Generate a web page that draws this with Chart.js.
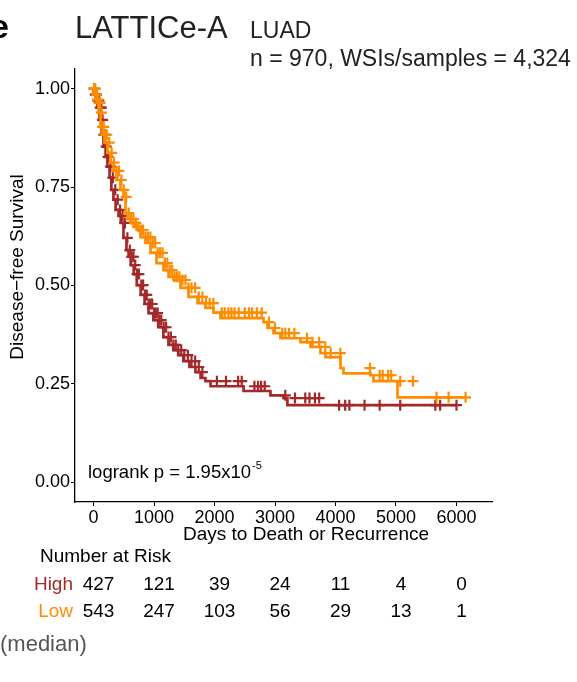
<!DOCTYPE html>
<html>
<head>
<meta charset="utf-8">
<script src="https://cdn.jsdelivr.net/npm/chart.js@4.4.0/dist/chart.umd.min.js"></script>
<style>
  html, body { margin: 0; padding: 0; background: #fff; }
  #wrap { width: 577px; height: 682px; position: relative; }
</style>
</head>
<body>
<div id="wrap"><canvas id="km_chart" width="577" height="682"></canvas></div>
<script>
// KM steps for the High group (days, survival)
var highDays = [0, 30, 65, 100, 135, 165, 200, 230, 265, 295, 330, 365, 415, 450, 495, 545, 580, 615, 665, 715, 780,
    845, 910, 990, 1070, 1155, 1240, 1320, 1400, 1485, 1585, 1685, 1770, 1850, 1935, 2480, 2925, 3140, 3205, 3865, 6000];
var highSurv = [1.000, 0.985, 0.970, 0.952, 0.921, 0.883, 0.853, 0.827, 0.802, 0.774, 0.743, 0.718, 0.692, 0.677, 0.659,
    0.621, 0.590, 0.573, 0.552, 0.529, 0.501, 0.476, 0.453, 0.430, 0.412, 0.394, 0.369, 0.349, 0.336, 0.323, 0.308,
    0.293, 0.280, 0.265, 0.257, 0.244, 0.232, 0.221, 0.214, 0.196, 0.196];

// KM steps for the Low group
var lowDays = [0, 33, 66, 83, 116, 149, 182, 231, 281, 331, 380, 446, 496, 529, 562, 612, 661, 727, 777, 860, 942,
    1041, 1157, 1240, 1322, 1438, 1570, 1719, 1851, 1983, 2099, 2810, 2876, 2975, 3091, 3421, 3587, 3752, 3835, 4083,
    4132, 4579, 4628, 5025, 5339, 6150];
var lowSurv = [1.000, 0.985, 0.972, 0.964, 0.939, 0.903, 0.883, 0.863, 0.837, 0.812, 0.791, 0.768, 0.743, 0.725, 0.684,
    0.669, 0.659, 0.649, 0.641, 0.623, 0.608, 0.583, 0.557, 0.539, 0.522, 0.514, 0.494, 0.471, 0.455, 0.443, 0.431,
    0.417, 0.407, 0.392, 0.379, 0.366, 0.356, 0.344, 0.328, 0.318, 0.290, 0.277, 0.272, 0.257, 0.216, 0.216];

// censored times
var highCensor = [10, 30, 50, 70, 90, 110, 130, 150, 170, 190, 210, 240, 280, 320, 360, 400, 440, 480, 520, 560, 600,
    630, 660, 690, 720, 750, 790, 820, 850, 880, 910, 940, 970, 1000, 1030, 1060, 1090, 1120, 1160, 1200, 1240, 1280,
    1320, 1360, 1400, 1450, 1500, 1560, 1620, 1680, 1740, 1800, 2040, 2190, 2390, 2450, 2660, 2720, 2770, 2830, 3170,
    3330, 3500, 3570, 3660, 3730, 4060, 4160, 4230, 4480, 4730, 5070, 5650, 5730, 6000];
var lowCensor = [10, 30, 50, 70, 90, 110, 130, 150, 170, 190, 220, 260, 300, 340, 380, 420, 460, 500, 540, 580, 620,
    660, 700, 740, 780, 820, 860, 900, 940, 980, 1020, 1060, 1100, 1140, 1180, 1220, 1260, 1300, 1340, 1380, 1420,
    1470, 1520, 1570, 1620, 1680, 1740, 1800, 1860, 1920, 1980, 2120, 2170, 2230, 2280, 2330, 2400, 2500, 2570, 2620,
    2700, 2780, 2900, 3000, 3120, 3170, 3230, 3320, 3530, 3620, 3730, 3830, 3920, 4080, 4570, 4730, 4780, 4870, 4920,
    5070, 5280, 5670, 5870, 6150];

var xTicks = [0, 1000, 2000, 3000, 4000, 5000, 6000];
var yTicks = [0, 0.25, 0.5, 0.75, 1];
var riskLabels = ['High', 'Low'];
var riskHigh = [427, 121, 39, 24, 11, 4, 0];
var riskLow = [543, 247, 103, 56, 29, 13, 1];

var highColor = '#a3292b';
var lowColor = '#ff8c00';
var fontFam = '"Liberation Sans", Arial, Helvetica, sans-serif';

function survAt(days, surv, t) {
    var s = surv[0];
    for (var i = 0; i < days.length; i++) {
        if (days[i] <= t) s = surv[i];
    }
    return s;
}

function toPoints(days, surv) {
    return days.map(function(d, i) { return {x: d, y: surv[i]}; });
}

function censorPoints(times, days, surv) {
    return times.map(function(t) { return {x: t, y: survAt(days, surv, t)}; });
}

// titles, p-value and the number-at-risk table
const kmText = {
    id: 'kmText',
    afterDraw: function(chart) {
        var ctx = chart.ctx;
        var xs = chart.scales.x;
        ctx.save();
        ctx.fillStyle = '#000';
        ctx.textBaseline = 'alphabetic';

        ctx.font = 'bold 34px ' + fontFam;
        ctx.textAlign = 'left';
        ctx.fillText('e', -10, 38);

        ctx.font = '31px ' + fontFam;
        ctx.fillStyle = '#222';
        ctx.fillText('LATTICe-A', 75, 38);
        ctx.font = '23px ' + fontFam;
        ctx.fillText('LUAD', 250, 38);
        ctx.fillText('n = 970, WSIs/samples = 4,324', 250, 66);

        // axis titles
        ctx.fillStyle = '#000';
        ctx.font = '19px ' + fontFam;
        ctx.textAlign = 'center';
        ctx.textBaseline = 'middle';
        ctx.fillText('Days to Death or Recurrence', 306, 535);
        ctx.save();
        ctx.translate(18, 267);
        ctx.rotate(-Math.PI / 2);
        ctx.fillText('Disease\u2212free Survival', 0, 0);
        ctx.restore();

        // logrank p-value
        ctx.textAlign = 'left';
        ctx.font = '18.5px ' + fontFam;
        var main = 'logrank p = 1.95x10';
        ctx.fillText(main, 88, 473);
        var w = ctx.measureText(main).width;
        ctx.font = '11px ' + fontFam;
        ctx.fillText('-5', 88 + w + 1, 466);

        // number at risk
        ctx.font = '19px ' + fontFam;
        ctx.fillText('Number at Risk', 40, 557);
        ctx.textAlign = 'right';
        ctx.fillStyle = highColor;
        ctx.fillText(riskLabels[0], 73, 585);
        ctx.fillStyle = lowColor;
        ctx.fillText(riskLabels[1], 73, 612);
        ctx.fillStyle = '#000';
        ctx.textAlign = 'center';
        xTicks.forEach(function(t, i) {
            var px = xs.getPixelForValue(t) + 5;
            ctx.fillText(String(riskHigh[i]), px, 585);
            ctx.fillText(String(riskLow[i]), px, 612);
        });

        ctx.textAlign = 'left';
        ctx.fillStyle = '#555';
        ctx.font = '22px ' + fontFam;
        ctx.fillText('(median)', 0, 645);
        ctx.restore();
    }
};

const config_km = {
    type: 'line',
    data: {
        datasets: [
            {
                label: 'Low censored',
                type: 'scatter',
                data: censorPoints(lowCensor, lowDays, lowSurv),
                pointStyle: 'cross',
                pointRadius: 5.5,
                pointBorderWidth: 2.2,
                borderColor: lowColor,
                backgroundColor: lowColor
            },
            {
                label: 'Low',
                data: toPoints(lowDays, lowSurv),
                stepped: 'after',
                borderColor: lowColor,
                borderWidth: 2.7,
                pointRadius: 0,
                fill: false
            },
            {
                label: 'High censored',
                type: 'scatter',
                data: censorPoints(highCensor, highDays, highSurv),
                pointStyle: 'cross',
                pointRadius: 5.5,
                pointBorderWidth: 2.2,
                borderColor: highColor,
                backgroundColor: highColor
            },
            {
                label: 'High',
                data: toPoints(highDays, highSurv),
                stepped: 'after',
                borderColor: highColor,
                borderWidth: 2.7,
                pointRadius: 0,
                fill: false
            }
        ]
    },
    options: {
        responsive: false,
        animation: false,
        devicePixelRatio: 1,
        layout: { padding: { left: 0, top: 69, right: 85, bottom: 0 } },
        plugins: { legend: { display: false }, tooltip: { enabled: false } },
        scales: {
            x: {
                type: 'linear',
                min: -306,
                max: 6587,
                afterFit: function(scale) { scale.height = 682 - 502; },
                afterBuildTicks: function(scale) {
                    scale.ticks = xTicks.map(function(v) { return {value: v}; });
                },
                grid: { display: true, drawOnChartArea: false, drawTicks: true, tickLength: 4, color: '#000', lineWidth: 1 },
                border: { display: true, color: '#000', width: 1.3 },
                ticks: {
                    color: '#000', font: { size: 18, family: fontFam }, padding: 1, maxRotation: 0, autoSkip: false,
                    callback: function(v) { return String(v); }
                }
            },
            y: {
                type: 'linear',
                min: -0.05,
                max: 1.05,
                afterFit: function(scale) { scale.width = 75; },
                afterBuildTicks: function(scale) {
                    scale.ticks = yTicks.map(function(v) { return {value: v}; });
                },
                grid: { display: true, drawOnChartArea: false, drawTicks: true, tickLength: 4, color: '#000', lineWidth: 1 },
                border: { display: true, color: '#000', width: 1.3 },
                ticks: {
                    color: '#000', font: { size: 18, family: fontFam }, padding: 1,
                    callback: function(v) { return Number(v).toFixed(2); }
                }
            }
        }
    },
    plugins: [kmText]
};

const km_chart = new Chart(document.getElementById('km_chart'), config_km);
</script>
</body>
</html>
